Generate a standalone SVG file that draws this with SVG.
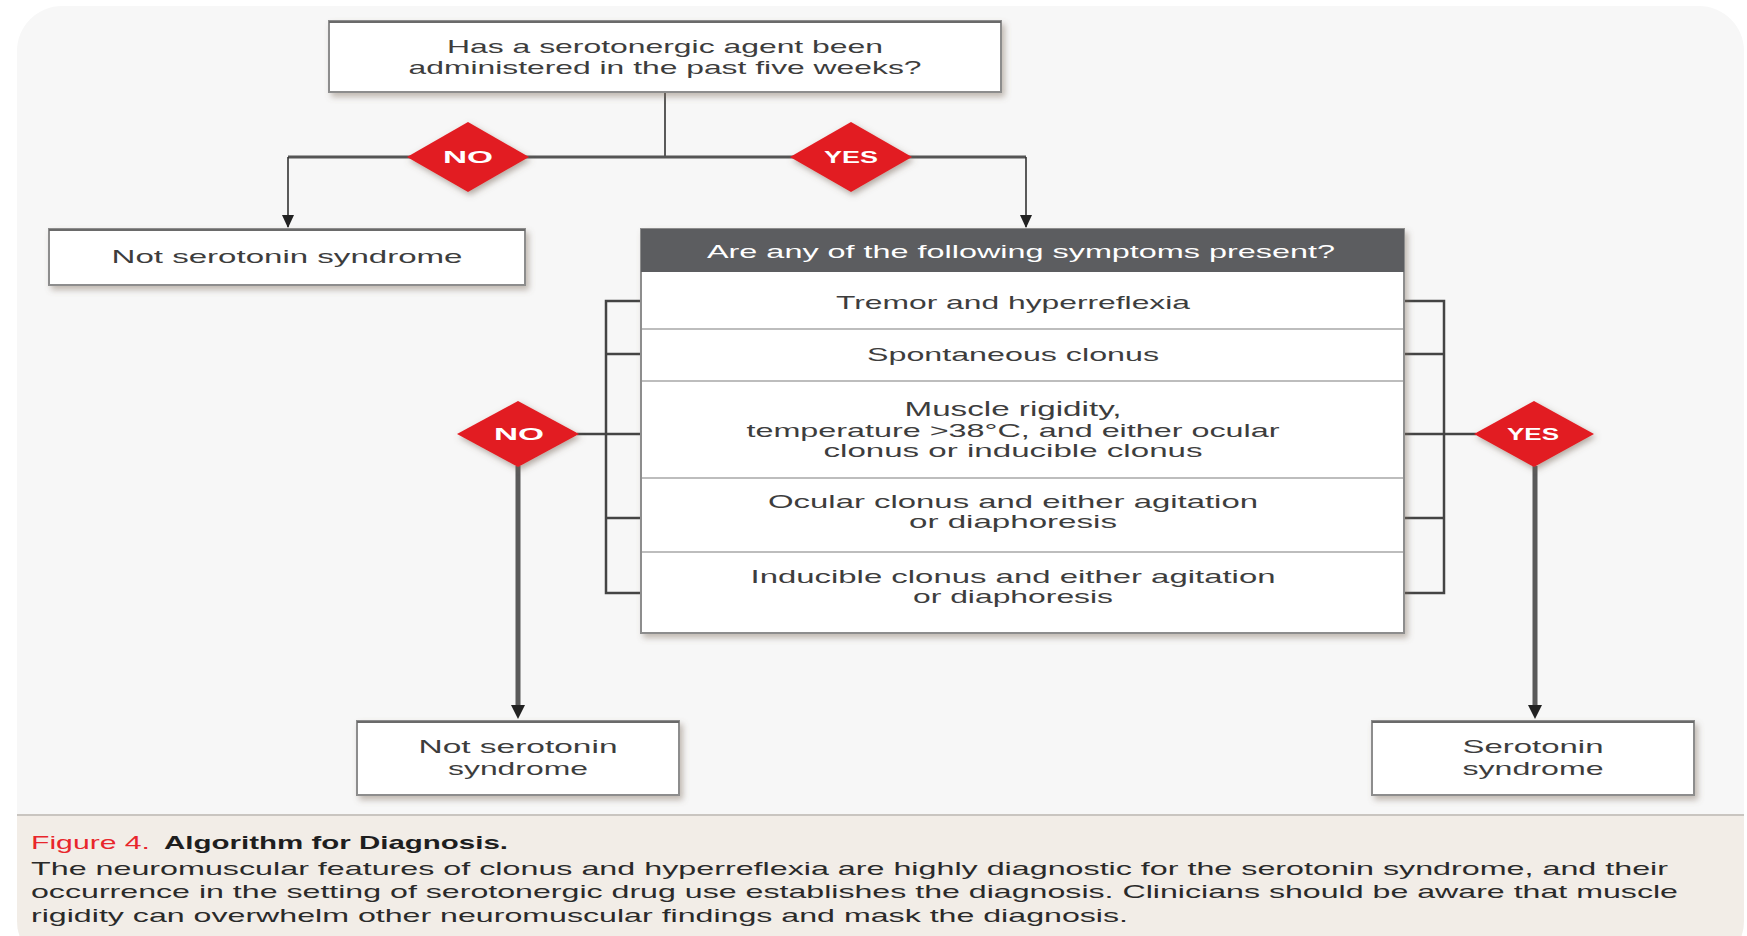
<svg xmlns="http://www.w3.org/2000/svg" width="1747" height="936" viewBox="0 0 1747 936">
<style>
.txt{font-family:"Liberation Sans",Arial,sans-serif;font-size:19px;fill:#3d3d3d;text-anchor:middle}
.hdr{font-family:"Liberation Sans",Arial,sans-serif;font-size:19px;fill:#ffffff;text-anchor:middle}
.dtxt{font-family:"Liberation Sans",Arial,sans-serif;font-size:17px;font-weight:bold;fill:#ffffff;text-anchor:middle}
.box{fill:#ffffff;stroke:#8d8d8d;stroke-width:2;filter:url(#sh)}
.dia{fill:#e21b23;filter:url(#dsh)}
.thin{stroke:#333;stroke-width:1.6;fill:none}
.thick{stroke:#5a5a5a;stroke-width:5;fill:none}
.brk{stroke:#444;stroke-width:2.5;fill:none}
.sep{stroke:#bdbdbd;stroke-width:2}
.cap{font-family:"Liberation Sans",Arial,sans-serif;font-size:19px;fill:#2a2a2a}
</style>
<defs>
<filter id="sh" x="-10%" y="-20%" width="125%" height="150%">
<feDropShadow dx="3" dy="4" stdDeviation="3" flood-color="#7a6a5a" flood-opacity="0.45"/>
</filter>
<filter id="dsh" x="-20%" y="-20%" width="150%" height="150%">
<feDropShadow dx="2" dy="3" stdDeviation="3" flood-color="#6a5a4a" flood-opacity="0.5"/>
</filter>
<marker id="ahd" markerWidth="14" markerHeight="14" refX="12" refY="7" orient="auto" markerUnits="userSpaceOnUse" viewBox="0 0 14 14">
<path d="M0,1 L13,7 L0,13 Z" fill="#222"/>
</marker>
<clipPath id="card"><rect x="17" y="6" width="1727" height="960" rx="45" ry="45"/></clipPath>
</defs>
<rect x="0" y="0" width="1747" height="936" fill="#ffffff"/>
<g id="background" clip-path="url(#card)">
<rect x="17" y="6" width="1727" height="960" fill="#f7f7f7"/>
<rect x="17" y="815" width="1727" height="150" fill="#f2ede7"/>
<line x1="17" y1="815" x2="1744" y2="815" stroke="#c9c5c0" stroke-width="2"/>
</g>
<g id="connectors">
<line class="thin" x1="665" y1="92" x2="665" y2="157"/>
<line x1="288" y1="157" x2="1026" y2="157" stroke="#555" stroke-width="3"/>
<path class="thin" d="M288,157 L288,227" marker-end="url(#ahd)"/>
<path class="thin" d="M1026,157 L1026,227" marker-end="url(#ahd)"/>
<path class="brk" d="M641,301 H606 V593 H641 M606,354 H641 M606,518 H641"/>
<line class="brk" x1="577" y1="434" x2="641" y2="434"/>
<path class="brk" d="M1404,301 H1444 V593 H1404 M1444,354 H1404 M1444,518 H1404"/>
<line class="brk" x1="1404" y1="434" x2="1476" y2="434"/>
<path class="thick" d="M518,466 L518,706"/>
<path d="M511,705 L525,705 L518,719 Z" fill="#222"/>
<path class="thick" d="M1535,466 L1535,706"/>
<path d="M1528,705 L1542,705 L1535,719 Z" fill="#222"/>
</g>
<g id="q1">
<rect class="box" x="329" y="21" width="672" height="71"/>
<line x1="329" y1="22" x2="1001" y2="22" stroke="#6a6a6a" stroke-width="2"/>
<text class="txt" x="665" y="53" textLength="436" lengthAdjust="spacingAndGlyphs">Has a serotonergic agent been</text>
<text class="txt" x="665" y="74" textLength="513" lengthAdjust="spacingAndGlyphs">administered in the past five weeks?</text>
</g>
<g id="d-no1">
<polygon class="dia" points="468,122 529,157 468,192 407,157"/>
<text class="dtxt" x="468" y="163" textLength="50" lengthAdjust="spacingAndGlyphs">NO</text>
</g>
<g id="d-yes1">
<polygon class="dia" points="851,122 912,157 851,192 790,157"/>
<text class="dtxt" x="851" y="163" textLength="54" lengthAdjust="spacingAndGlyphs">YES</text>
</g>
<g id="not1">
<rect class="box" x="49" y="229" width="476" height="56"/>
<line x1="49" y1="230" x2="525" y2="230" stroke="#6a6a6a" stroke-width="2"/>
<text class="txt" x="287" y="263" textLength="351" lengthAdjust="spacingAndGlyphs">Not serotonin syndrome</text>
</g>
<g id="symptoms">
<rect class="box" x="641" y="229" width="763" height="404"/>
<rect x="641" y="229" width="763" height="43" fill="#5c5d60"/>
<text class="hdr" x="1021" y="258" textLength="628" lengthAdjust="spacingAndGlyphs">Are any of the following symptoms present?</text>
<line class="sep" x1="642" y1="329" x2="1403" y2="329"/>
<line class="sep" x1="642" y1="381" x2="1403" y2="381"/>
<line class="sep" x1="642" y1="478" x2="1403" y2="478"/>
<line class="sep" x1="642" y1="552" x2="1403" y2="552"/>
<text class="txt" x="1013" y="309" textLength="354" lengthAdjust="spacingAndGlyphs">Tremor and hyperreflexia</text>
<text class="txt" x="1013" y="361" textLength="292" lengthAdjust="spacingAndGlyphs">Spontaneous clonus</text>
<text class="txt" x="1013" y="416" textLength="217" lengthAdjust="spacingAndGlyphs" style="font-size:20px">Muscle rigidity,</text>
<text class="txt" x="1013" y="437" textLength="533" lengthAdjust="spacingAndGlyphs">temperature &gt;38°C, and either ocular</text>
<text class="txt" x="1013" y="457" textLength="379" lengthAdjust="spacingAndGlyphs">clonus or inducible clonus</text>
<text class="txt" x="1013" y="508" textLength="490" lengthAdjust="spacingAndGlyphs">Ocular clonus and either agitation</text>
<text class="txt" x="1013" y="528" textLength="208" lengthAdjust="spacingAndGlyphs">or diaphoresis</text>
<text class="txt" x="1013" y="583" textLength="525" lengthAdjust="spacingAndGlyphs">Inducible clonus and either agitation</text>
<text class="txt" x="1013" y="603" textLength="200" lengthAdjust="spacingAndGlyphs">or diaphoresis</text>
</g>
<g id="d-no2">
<polygon class="dia" points="518,401 579,434 518,467 457,434"/>
<text class="dtxt" x="519" y="440" textLength="50" lengthAdjust="spacingAndGlyphs">NO</text>
</g>
<g id="d-yes2">
<polygon class="dia" points="1534,401 1594,434 1534,467 1474,434"/>
<text class="dtxt" x="1533" y="440" textLength="52" lengthAdjust="spacingAndGlyphs">YES</text>
</g>
<g id="not2">
<rect class="box" x="357" y="721" width="322" height="74"/>
<line x1="357" y1="722" x2="679" y2="722" stroke="#6a6a6a" stroke-width="2"/>
<text class="txt" x="518" y="753" textLength="199" lengthAdjust="spacingAndGlyphs">Not serotonin</text>
<text class="txt" x="518" y="775" textLength="140" lengthAdjust="spacingAndGlyphs">syndrome</text>
</g>
<g id="ss">
<rect class="box" x="1372" y="721" width="322" height="74"/>
<line x1="1372" y1="722" x2="1694" y2="722" stroke="#6a6a6a" stroke-width="2"/>
<text class="txt" x="1533" y="753" textLength="141" lengthAdjust="spacingAndGlyphs">Serotonin</text>
<text class="txt" x="1533" y="775" textLength="141" lengthAdjust="spacingAndGlyphs">syndrome</text>
</g>
<g id="caption">
<text class="cap" x="31" y="849"><tspan fill="#e8262c" textLength="119" lengthAdjust="spacingAndGlyphs">Figure 4.</tspan><tspan x="164" font-weight="bold" fill="#1e1e1e" textLength="344" lengthAdjust="spacingAndGlyphs">Algorithm for Diagnosis.</tspan></text>
<text class="cap" x="31" y="875" textLength="1637" lengthAdjust="spacingAndGlyphs">The neuromuscular features of clonus and hyperreflexia are highly diagnostic for the serotonin syndrome, and their</text>
<text class="cap" x="31" y="898" textLength="1647" lengthAdjust="spacingAndGlyphs">occurrence in the setting of serotonergic drug use establishes the diagnosis. Clinicians should be aware that muscle</text>
<text class="cap" x="31" y="922" textLength="1097" lengthAdjust="spacingAndGlyphs">rigidity can overwhelm other neuromuscular findings and mask the diagnosis.</text>
</g>
</svg>
